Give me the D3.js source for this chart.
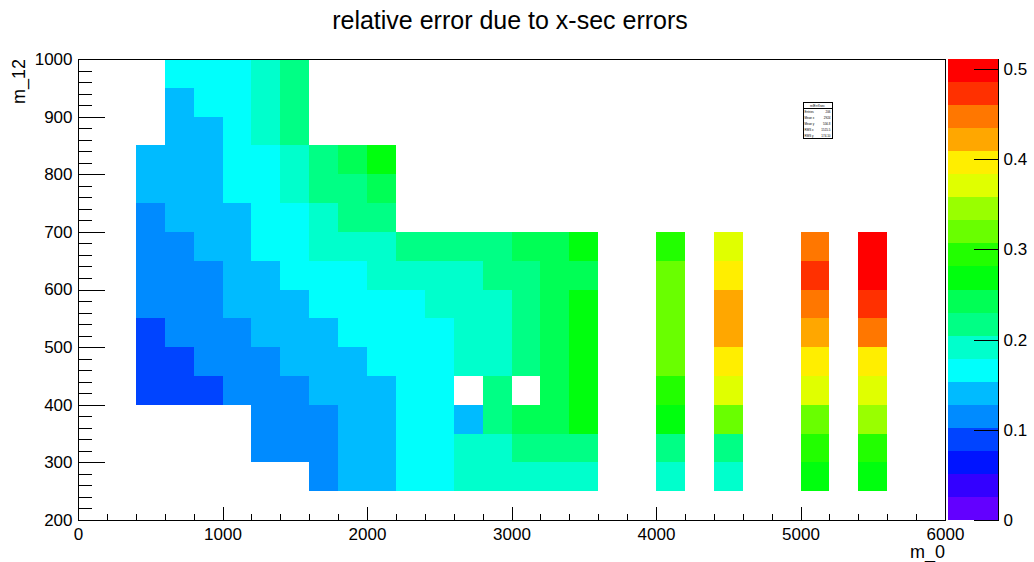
<!DOCTYPE html>
<html>
<head>
<meta charset="utf-8">
<script src="https://cdn.jsdelivr.net/npm/d3@7"></script>
<style>
  body { margin: 0; background: #fff; }
  text { font-family: "Liberation Sans", Arial, Helvetica, sans-serif; fill: #000; }
</style>
</head>
<body>
<svg id="chart" width="1034" height="562"></svg>
<script>
// ---- data -------------------------------------------------------------
// lower edges of the m_0 bins (200 wide) and m_12 bins (50 tall)
const m0Bins  = [400, 600, 800, 1000, 1200, 1400, 1600, 1800, 2000, 2200,
                 2400, 2600, 2800, 3000, 3200, 3400, 4000, 4400, 5000, 5400];
const m12Bins = [950, 900, 850, 800, 750, 700, 650, 600, 550, 500, 450, 400, 350, 300, 250];
const m0Width = 200, m12Height = 50;

// relative error per (m_12 row, m_0 column); null = empty bin
const _ = null;
const relErr = [
  [_,    .165, .168, .172, .190, .215, _,    _,    _,    _,    _,    _,    _,    _,    _,    _,    _,    _,    _,    _   ],
  [_,    .145, .158, .165, .185, .210, _,    _,    _,    _,    _,    _,    _,    _,    _,    _,    _,    _,    _,    _   ],
  [_,    .138, .148, .160, .182, .212, _,    _,    _,    _,    _,    _,    _,    _,    _,    _,    _,    _,    _,    _   ],
  [.135, .140, .150, .160, .175, .195, .215, .245, .270, _,    _,    _,    _,    _,    _,    _,    _,    _,    _,    _   ],
  [.130, .138, .148, .156, .168, .190, .210, .225, .240, _,    _,    _,    _,    _,    _,    _,    _,    _,    _,    _   ],
  [.120, .130, .140, .150, .162, .175, .195, .212, .220, _,    _,    _,    _,    _,    _,    _,    _,    _,    _,    _   ],
  [.108, .125, .135, .148, .158, .170, .185, .195, .200, .210, .215, .220, .225, .240, .250, .265, .295, .370, .445, .511],
  [.105, .115, .125, .130, .140, .155, .163, .172, .182, .190, .195, .200, .208, .222, .235, .248, .320, .395, .470, .500],
  [.105, .110, .120, .130, .138, .150, .158, .165, .170, .175, .185, .195, .200, .215, .240, .260, .315, .420, .448, .475],
  [.095, .105, .115, .125, .130, .140, .150, .155, .165, .170, .175, .185, .195, .210, .235, .260, .312, .415, .420, .450],
  [.085, .095, .105, .115, .125, .130, .140, .150, .155, .160, .170, .185, .190, .215, .240, .262, .310, .395, .390, .395],
  [.080, .090, .100, .105, .115, .125, .130, .140, .150, .155, .165, _,    .210, _,    .245, .265, .300, .370, .365, .370],
  [_,    _,    _,    _,    .110, .120, .125, .130, .140, .155, .165, .145, .210, .240, .250, .270, .270, .320, .315, .340],
  [_,    _,    _,    _,    .110, .115, .120, .130, .145, .158, .170, .185, .195, .210, .215, .220, .215, .220, .300, .295],
  [_,    _,    _,    _,    _,    _,    .120, .135, .145, .160, .172, .185, .190, .195, .200, .200, .190, .195, .270, .270]
];

const xTicksMajor = [0, 1000, 2000, 3000, 4000, 5000, 6000];
const yTicksMajor = [200, 300, 400, 500, 600, 700, 800, 900, 1000];
const zTicks      = [0, 0.1, 0.2, 0.3, 0.4, 0.5];

const titleText = "relative error due to x-sec errors";
const xTitle = "m_0";
const yTitle = "m_12";

// ---- layout -----------------------------------------------------------
const frame = { left: 78, right: 945, top: 59, bottom: 520 };
const bar   = { left: 948, right: 998 };

const svg = d3.select("#chart");

const x = d3.scaleLinear().domain([0, 6000]).range([frame.left, frame.right]);
const y = d3.scaleLinear().domain([200, 1000]).range([frame.bottom, frame.top]);

// flatten grid into cells
const cells = [];
m12Bins.forEach((yl, r) => m0Bins.forEach((xl, c) => {
  const v = relErr[r][c];
  if (v !== null) cells.push({ m0: xl, m12: yl, v });
}));

const zMax = d3.max(cells, d => d.v);
const z = d3.scaleLinear().domain([0, zMax]).range([frame.bottom, frame.top]);

// 20 contour levels picked from the 50-step hue rainbow (violet -> red)
const nLevels = 20, nPretty = 50;
const palette = d3.range(nLevels).map(i => {
  const k = Math.floor((i + 0.99) * nPretty / nLevels);
  const hue = 280 - (k + 1) * (280 / nPretty);
  return d3.hsl(hue, 1, 0.5).formatHex();
});
const color = d3.scaleQuantize().domain([0, zMax]).range(palette);

// ---- cells ------------------------------------------------------------
svg.append("g").attr("shape-rendering", "crispEdges")
  .selectAll("rect").data(cells).join("rect")
  .attr("x", d => x(d.m0))
  .attr("y", d => y(d.m12 + m12Height))
  .attr("width", d => x(d.m0 + m0Width) - x(d.m0))
  .attr("height", d => y(d.m12) - y(d.m12 + m12Height))
  .attr("fill", d => color(d.v));

// ---- frame ------------------------------------------------------------
svg.append("rect")
  .attr("x", frame.left + 0.5).attr("y", frame.top + 0.5)
  .attr("width", frame.right - frame.left).attr("height", frame.bottom - frame.top)
  .attr("fill", "none").attr("stroke", "#000").attr("stroke-width", 1)
  .attr("shape-rendering", "crispEdges");

// ---- axes -------------------------------------------------------------
const xTickLen = 0.03 * (frame.bottom - frame.top);
const yTickLen = 0.03 * (frame.right - frame.left);

function styleAxis(g) {
  g.select(".domain").remove();
  g.selectAll("line").attr("stroke", "#000").attr("shape-rendering", "crispEdges");
  g.selectAll("text").attr("font-size", 17)
    .attr("font-family", '"Liberation Sans", Arial, sans-serif');
  g.attr("font-size", null).attr("font-family", null);
}

const xMinor = d3.range(0, 6001, 200).filter(v => v % 1000 !== 0);
svg.append("g").attr("transform", `translate(0,${frame.bottom + 0.5})`)
  .call(d3.axisBottom(x).tickValues(xMinor).tickSize(-xTickLen / 2).tickFormat(""))
  .call(styleAxis);
svg.append("g").attr("transform", `translate(0,${frame.bottom + 0.5})`)
  .call(d3.axisBottom(x).tickValues(xTicksMajor).tickSize(-xTickLen).tickPadding(7)
        .tickFormat(d3.format("d")))
  .call(styleAxis);

const yMinor = d3.range(200, 1001, 20).filter(v => v % 100 !== 0);
svg.append("g").attr("transform", `translate(${frame.left + 0.5},0)`)
  .call(d3.axisLeft(y).tickValues(yMinor).tickSize(-yTickLen / 2).tickFormat(""))
  .call(styleAxis);
svg.append("g").attr("transform", `translate(${frame.left + 0.5},0)`)
  .call(d3.axisLeft(y).tickValues(yTicksMajor).tickSize(-yTickLen).tickPadding(6)
        .tickFormat(d3.format("d")))
  .call(styleAxis);

// ---- colour bar -------------------------------------------------------
const step = zMax / nLevels;
svg.append("g").attr("shape-rendering", "crispEdges")
  .selectAll("rect").data(palette).join("rect")
  .attr("x", bar.left)
  .attr("y", (c, i) => z((i + 1) * step))
  .attr("width", bar.right - bar.left)
  .attr("height", (c, i) => z(i * step) - z((i + 1) * step))
  .attr("fill", c => c);

svg.append("line")
  .attr("x1", bar.right + 0.5).attr("x2", bar.right + 0.5)
  .attr("y1", frame.top).attr("y2", frame.bottom)
  .attr("stroke", "#000").attr("shape-rendering", "crispEdges");

svg.append("g").attr("transform", `translate(${bar.right + 0.5},0)`)
  .call(d3.axisRight(z).tickValues(zTicks).tickSize(-25).tickPadding(5)
        .tickFormat(d => d === 0 ? "0" : d.toFixed(1)))
  .call(styleAxis);

// ---- titles -----------------------------------------------------------
svg.append("text")
  .attr("x", 510).attr("y", 29)
  .attr("text-anchor", "middle").attr("font-size", 25)
  .text(titleText);

svg.append("text")
  .attr("x", frame.right).attr("y", 558)
  .attr("text-anchor", "end").attr("font-size", 18)
  .text(xTitle);

svg.append("text")
  .attr("transform", `translate(25,${frame.top}) rotate(-90)`)
  .attr("text-anchor", "end").attr("font-size", 18)
  .text(yTitle);

// ---- statistics box ---------------------------------------------------
const wsum = d3.sum(cells, d => d.v);
const meanX = d3.sum(cells, d => d.v * (d.m0 + m0Width / 2)) / wsum;
const meanY = d3.sum(cells, d => d.v * (d.m12 + m12Height / 2)) / wsum;
const rmsX = Math.sqrt(d3.sum(cells, d => d.v * (d.m0 + m0Width / 2 - meanX) ** 2) / wsum);
const rmsY = Math.sqrt(d3.sum(cells, d => d.v * (d.m12 + m12Height / 2 - meanY) ** 2) / wsum);
const statRows = [
  ["Entries", String(cells.length)],
  ["Mean x", meanX.toFixed(0)],
  ["Mean y", meanY.toFixed(1)],
  ["RMS x", rmsX.toFixed(1)],
  ["RMS y", rmsY.toFixed(2)]
];
const box = { x: 803, y: 102, w: 29, h: 36, head: 5.5 };
const sb = svg.append("g");
sb.append("rect").attr("x", box.x + 0.5).attr("y", box.y + 0.5)
  .attr("width", box.w).attr("height", box.h)
  .attr("fill", "#fff").attr("stroke", "#000").attr("shape-rendering", "crispEdges");
sb.append("line").attr("x1", box.x).attr("x2", box.x + box.w)
  .attr("y1", box.y + box.head + 0.5).attr("y2", box.y + box.head + 0.5)
  .attr("stroke", "#000").attr("shape-rendering", "crispEdges");
sb.append("text").attr("x", box.x + box.w / 2).attr("y", box.y + 4.5)
  .attr("text-anchor", "middle").attr("font-size", 3.2).text("relErrXsec");
statRows.forEach((r, i) => {
  const ty = box.y + box.head + 5 + i * 6.2;
  sb.append("text").attr("x", box.x + 1.5).attr("y", ty).attr("font-size", 3).text(r[0]);
  sb.append("text").attr("x", box.x + box.w - 1.5).attr("y", ty)
    .attr("text-anchor", "end").attr("font-size", 3).text(r[1]);
});
</script>
</body>
</html>
